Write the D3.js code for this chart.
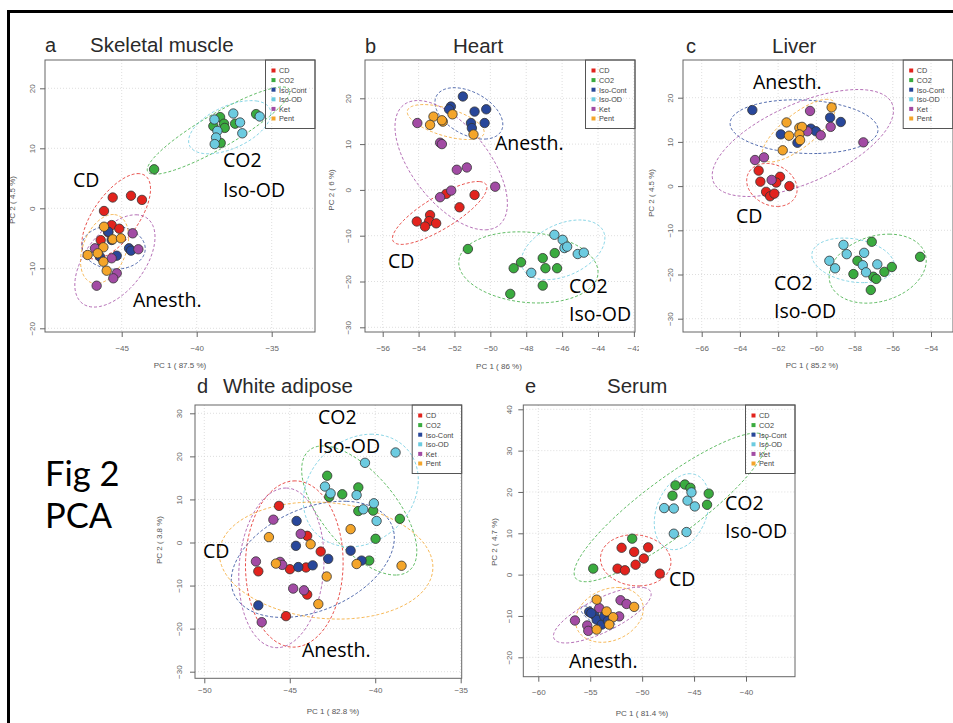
<!DOCTYPE html>
<html lang="en">
<head>
<meta charset="UTF-8" />
<title>Fig 2 PCA</title>
<script src="https://d3js.org/d3.v7.min.js"></script>
<style>
  body { margin: 0; background: #fff; }
  svg { display: block; }
</style>
</head>
<body>
<svg width="953" height="723"></svg>
<script>
const groups = ["CD", "CO2", "Iso-Cont", "Iso-OD", "Ket", "Pent"];
const groupColors = ["#e2231d", "#3aab3f", "#28479a", "#6ccbe0", "#a24ba4", "#f4a52a"];

// a  skeletal muscle
const muscleCD = [[-45.6,1.8],[-44.38,2.1],[-43.65,1.4],[-46.18,-0.45],[-45.67,-2.8],[-45.16,-3.4],[-46.4,-5.3],[-45.9,-4.0]];
const muscleCO2 = [[-42.84,6.5],[-38.89,13.7],[-38.44,15.2],[-38.18,14.1],[-38.13,13.4],[-38.4,10.9],[-37.44,14.1],[-36.04,15.7]];
const muscleIsoCont = [[-45.89,-3.9],[-45.67,-5.28],[-46.56,-6.83],[-46.45,-8.07],[-45.33,-7.9],[-44.51,-6.67],[-44.38,-7.06]];
const muscleIsoOD = [[-38.82,14.8],[-38.62,12.9],[-38.71,11.8],[-38.8,10.7],[-37.56,15.8],[-37.11,14.3],[-36.96,12.5],[-35.8,15.3]];
const muscleKet = [[-44.27,-4.17],[-43.89,-6.83],[-46.78,-6.67],[-45.67,-8.33],[-45.33,-10.83],[-45.56,-11.67],[-46.67,-12.9]];
const musclePent = [[-46.18,-3.07],[-45.6,-5.17],[-45.05,-5.0],[-46.22,-6.5],[-47.27,-7.78],[-46.6,-7.5],[-46.22,-8.9],[-46,-10.4]];

// b  heart
const heartCD = [[-52.46,-0.87],[-50.88,-1.1],[-51.72,-3.8],[-53.36,-5.5],[-54.1,-6.9],[-53.41,-6.8],[-53.02,-7.3],[-53.64,-8.0]];
const heartCO2 = [[-51.25,-12.9],[-48.7,-17.1],[-48.29,-15.8],[-48.89,-22.7],[-47.08,-14.9],[-46.93,-17.1],[-46.41,-13.8],[-46.28,-17.1],[-47.08,-20.9]];
const heartIsoCont = [[-51.53,20.4],[-52.2,18.2],[-50.88,17.1],[-50.23,17.6],[-51.08,14.6],[-51.03,13.5],[-50.32,14.6],[-52.3,17.6]];
const heartIsoOD = [[-46.43,-9.8],[-45.97,-10.9],[-45.87,-12.7],[-45.72,-12.4],[-45.13,-14.0],[-44.79,-13.7],[-47.72,-18.1]];
const heartKet = [[-54.07,14.6],[-52.8,10.3],[-52.7,10.0],[-51.87,4.4],[-51.31,4.9],[-52.18,-0.15],[-52.8,-1.6],[-49.73,0.7]];
const heartPent = [[-52.11,16.5],[-52.65,14.9],[-53.17,16.0],[-53.36,14.2],[-50.94,12.1],[-52.7,15.2]];

// c  liver
const liverCD = [[-63.02,3.5],[-62.93,1.0],[-61.9,2.1],[-61.41,0],[-62.63,-1.3],[-62.42,-2.3],[-62.2,-1.7],[-62.1,0.8]];
const liverCO2 = [[-57.1,-12.6],[-57.85,-16.9],[-58.06,-19.9],[-57.02,-20.5],[-56.87,-21.0],[-57.15,-23.5],[-56.44,-19.4],[-56.05,-18.3],[-54.57,-16.0]];
const liverIsoCont = [[-63.35,17.2],[-61.86,11.7],[-60.99,9.8],[-60.29,13.0],[-60.02,12.4],[-59.28,15.5],[-58.72,14.5]];
const liverIsoOD = [[-58.58,-13.3],[-58.41,-15.4],[-57.5,-15.1],[-59.32,-16.9],[-59.02,-18.6],[-57.57,-17.9],[-57.4,-19.5],[-56.81,-17.7]];
const liverKet = [[-60.33,17.0],[-60.47,12.4],[-59.77,11.5],[-59.25,13.4],[-57.54,9.9],[-63.21,5.9],[-62.74,6.5],[-62.34,1.4]];
const liverPent = [[-61.56,14.4],[-61.43,11.4],[-60.89,13.2],[-60.75,13.4],[-60.89,11.7],[-60.85,10.4],[-61.76,8.1],[-59.2,17.8]];

// d  white adipose
const adiposeCD = [[-45.63,8.5],[-43.98,1.55],[-43.19,-2.1],[-44.99,-6.2],[-44.05,-5.8],[-46.84,-6.7],[-43.98,-12.1],[-45.22,-17.1]];
const adiposeCO2 = [[-42.81,15.5],[-41.93,11.2],[-40.99,12.8],[-42.69,10.6],[-40.99,7.3],[-40.12,7.4],[-38.56,5.5],[-39.98,0.86],[-40.35,-4.2]];
const adiposeIsoCont = [[-44.6,5.0],[-44.64,-0.77],[-41.44,-1.9],[-42.75,-3.8],[-43.66,-5.3],[-44.5,-5.7],[-40.8,-4.2],[-46.84,-14.6]];
const adiposeIsoOD = [[-38.81,20.9],[-40.6,18.5],[-42.94,13.0],[-42.61,11.4],[-41.09,11.0],[-40.08,9.1],[-40.7,7.7],[-39.92,5.0]];
const adiposeKet = [[-45.96,5.3],[-44.36,2.0],[-46.98,-4.4],[-45.57,-4.5],[-45.44,-5.2],[-44.8,-10.7],[-44.17,-11.1],[-46.64,-18.5]];
const adiposePent = [[-46.22,1.25],[-43.78,-0.4],[-41.44,3.1],[-45.81,-4.9],[-42.84,-7.9],[-41.09,-5.0],[-38.46,-5.4],[-43.33,-14.3]];

// e  serum
const serumCD = [[-51.98,6.5],[-50.77,5.5],[-49.42,6.6],[-49.84,3.9],[-50.63,2.4],[-52.37,1.45],[-51.66,1.05],[-48.3,0.24]];
const serumCO2 = [[-46.79,21.6],[-45.89,21.8],[-45.35,21.0],[-47.08,19.1],[-43.59,19.6],[-43.75,16.9],[-50.96,8.7],[-54.71,1.45]];
const serumIsoCont = [[-55.1,-9.0],[-54.62,-9.7],[-54.38,-10.9],[-53.9,-12.1],[-53.65,-10.1],[-54.9,-9.3],[-53.3,-11.2]];
const serumIsoOD = [[-47.88,16.1],[-46.95,16.0],[-45.63,17.9],[-45.25,19.9],[-44.93,16.5],[-46.95,9.9],[-45.73,10.3]];
const serumKet = [[-52.08,-6.2],[-51.5,-7.1],[-52.21,-10.1],[-56.47,-11.1],[-55.29,-12.3],[-55.19,-13.6],[-54.13,-8.1]];
const serumPent = [[-54.38,-6.05],[-53.42,-8.9],[-50.77,-7.8],[-52.79,-10.3],[-53.17,-12.1],[-54.38,-13.3]];

// tick labels
const muscleXTicks = [-45, -40, -35], muscleYTicks = [-20, -10, 0, 10, 20];
const heartXTicks = [-56, -54, -52, -50, -48, -46, -44, -42], heartYTicks = [-30, -20, -10, 0, 10, 20];
const liverXTicks = [-66, -64, -62, -60, -58, -56, -54], liverYTicks = [-30, -20, -10, 0, 10, 20];
const adiposeXTicks = [-50, -45, -40, -35], adiposeYTicks = [-30, -20, -10, 0, 10, 20, 30];
const serumXTicks = [-60, -55, -50, -45, -40], serumYTicks = [-20, -10, 0, 10, 20, 30, 40];

const pc1Labels = ["PC 1 ( 87.5 %)", "PC 1 ( 86 %)", "PC 1 ( 85.2 %)", "PC 1 ( 82.8 %)", "PC 1 ( 81.4 %)"];
const pc2Labels = ["PC 2 ( 4.5 %)", "PC 2 ( 6 %)", "PC 2 ( 4.5 %)", "PC 2 ( 3.8 %)", "PC 2 ( 4.7 %)"];

const panels = [
  { letter: "a", title: "Skeletal muscle", lx: 45, tx: 90, ty: 52, box: [45, 60, 315, 332],
    xd: [-45, -35], xr: [121.7, 271.7], yd: [-20, 20], yr: [328.3, 88.3],
    xt: muscleXTicks, yt: muscleYTicks, xpad: 8, ypad: 5, xlx: 180, xly: 368, ylx: 15, yly: 200,
    data: [muscleCD, muscleCO2, muscleIsoCont, muscleIsoOD, muscleKet, musclePent],
    notes: [["CD", 73, 187], ["CO2", 223, 167], ["Iso-OD", 223, 197], ["Anesth.", 133, 307]] },
  { letter: "b", title: "Heart", lx: 365, tx: 453, ty: 53, box: [365, 60, 635, 332],
    xd: [-56, -44], xr: [382.7, 598], yd: [-30, 20], yr: [327.3, 98.3],
    xt: heartXTicks, yt: heartYTicks, xpad: 8, ypad: 9, xlx: 499, xly: 369, ylx: 334, yly: 190,
    clip: [318, 639],
    data: [heartCD, heartCO2, heartIsoCont, heartIsoOD, heartKet, heartPent],
    notes: [["Anesth.", 495, 150], ["CD", 388, 268], ["CO2", 569, 293], ["Iso-OD", 569, 321]] },
  { letter: "c", title: "Liver", lx: 686, tx: 772, ty: 53, box: [683, 60, 953, 332],
    xd: [-66, -54], xr: [701.7, 931], yd: [-30, 20], yr: [318.7, 97.7],
    xt: liverXTicks, yt: liverYTicks, xpad: 8, ypad: 5, xlx: 812, xly: 368, ylx: 654, yly: 193,
    data: [liverCD, liverCO2, liverIsoCont, liverIsoOD, liverKet, liverPent],
    notes: [["Anesth.", 753, 89], ["CD", 736, 223], ["CO2", 774, 290], ["Iso-OD", 774, 318]] },
  { letter: "d", title: "White adipose", lx: 197, tx: 223, ty: 393, box: [195, 405, 461.7, 678.3],
    xd: [-50, -35], xr: [204.3, 460.7], yd: [-30, 30], yr: [671.7, 413.3],
    xt: adiposeXTicks, yt: adiposeYTicks, xpad: 4, ypad: 8, xlx: 333, xly: 714, ylx: 162, yly: 540,
    data: [adiposeCD, adiposeCO2, adiposeIsoCont, adiposeIsoOD, adiposeKet, adiposePent],
    notes: [["CO2", 318, 424], ["Iso-OD", 318, 453], ["CD", 203, 558], ["Anesth.", 302, 657]] },
  { letter: "e", title: "Serum", lx: 525, tx: 607, ty: 393, box: [523.3, 405, 795, 676.7],
    xd: [-60, -40], xr: [538.3, 746], yd: [-20, 40], yr: [657.3, 409.3],
    xt: serumXTicks, yt: serumYTicks, xpad: 8, ypad: 6, xlx: 642, xly: 716, ylx: 497, yly: 542,
    data: [serumCD, serumCO2, serumIsoCont, serumIsoOD, serumKet, serumPent],
    notes: [["CO2", 725, 510], ["Iso-OD", 725, 538], ["CD", 669, 586], ["Anesth.", 569, 668]] }
];

const svg = d3.select("svg");
svg.append("rect").attr("width", 953).attr("height", 723).attr("fill", "#fff");

const chi95 = Math.sqrt(5.991);
function ellipse(pts) {
  const n = pts.length;
  const mx = d3.mean(pts, d => d[0]), my = d3.mean(pts, d => d[1]);
  const sxx = d3.sum(pts, d => (d[0] - mx) ** 2) / (n - 1);
  const syy = d3.sum(pts, d => (d[1] - my) ** 2) / (n - 1);
  const sxy = d3.sum(pts, d => (d[0] - mx) * (d[1] - my)) / (n - 1);
  const tr = sxx + syy, det = sxx * syy - sxy * sxy;
  const disc = Math.sqrt(Math.max(0, tr * tr / 4 - det));
  const a = Math.sqrt(tr / 2 + disc) * chi95;
  const b = Math.sqrt(Math.max(0, tr / 2 - disc)) * chi95;
  const th = 0.5 * Math.atan2(2 * sxy, sxx - syy);
  return d3.range(0, 121).map(i => {
    const t = i / 120 * 2 * Math.PI;
    return [mx + a * Math.cos(th) * Math.cos(t) - b * Math.sin(th) * Math.sin(t),
            my + a * Math.sin(th) * Math.cos(t) + b * Math.cos(th) * Math.sin(t)];
  });
}

panels.forEach((p, pi) => {
  const [x0, y0, x1, y1] = p.box;
  const x = d3.scaleLinear().domain(p.xd).range(p.xr);
  const y = d3.scaleLinear().domain(p.yd).range(p.yr);

  let g = svg.append("g");
  if (p.clip) {
    svg.append("clipPath").attr("id", "pc" + pi).append("rect")
      .attr("x", p.clip[0]).attr("y", 0).attr("width", p.clip[1] - p.clip[0]).attr("height", 723);
    g.attr("clip-path", "url(#pc" + pi + ")");
  }
  svg.append("clipPath").attr("id", "box" + pi).append("rect")
    .attr("x", x0).attr("y", y0).attr("width", x1 - x0).attr("height", y1 - y0);

  // title
  g.append("text").attr("x", p.lx).attr("y", p.ty).text(p.letter)
    .attr("font-family", "Liberation Sans, Arial, sans-serif").attr("font-size", 20).attr("fill", "#2a2a2a");
  g.append("text").attr("x", p.tx).attr("y", p.ty).text(p.title)
    .attr("font-family", "Liberation Sans, Arial, sans-serif").attr("font-size", 20.5).attr("fill", "#2a2a2a");

  // grid
  const grid = g.append("g").attr("stroke", "#d6d6d6").attr("stroke-dasharray", "1,2").attr("stroke-width", 0.8);
  grid.selectAll(".gx").data(p.xt.filter(v => x(v) > x0 && x(v) < x1)).join("line")
    .attr("x1", d => x(d)).attr("x2", d => x(d)).attr("y1", y0).attr("y2", y1);
  grid.selectAll(".gy").data(p.yt).join("line").attr("class", "gy")
    .attr("y1", d => y(d)).attr("y2", d => y(d)).attr("x1", x0).attr("x2", x1);

  // axes
  const ax = g.append("g").attr("transform", `translate(0,${y1})`)
    .call(d3.axisBottom(x).tickValues(p.xt).tickSize(5).tickPadding(p.xpad).tickFormat(d3.format("d")));
  const ay = g.append("g").attr("transform", `translate(${x0},0)`)
    .call(d3.axisLeft(y).tickValues(p.yt).tickSize(5).tickPadding(p.ypad).tickFormat(d3.format("d")));
  [ax, ay].forEach(a => {
    a.select(".domain").remove();
    a.selectAll("line").attr("stroke", "#666");
    a.selectAll("text").attr("fill", "#666").attr("font-size", 8)
      .attr("font-family", "Liberation Sans, Arial, sans-serif");
  });
  ay.selectAll("text").attr("transform", "rotate(-90)").attr("text-anchor", "middle")
    .attr("x", 0).attr("y", -(5 + p.ypad)).attr("dy", 0);

  g.append("text").attr("x", p.xlx).attr("y", p.xly).attr("text-anchor", "middle")
    .attr("font-family", "Liberation Sans, Arial, sans-serif").attr("font-size", 8).attr("fill", "#555")
    .text(pc1Labels[pi]);
  g.append("text").attr("transform", `translate(${p.ylx},${p.yly}) rotate(-90)`).attr("text-anchor", "middle")
    .attr("font-family", "Liberation Sans, Arial, sans-serif").attr("font-size", 8).attr("fill", "#555")
    .text(pc2Labels[pi]);

  // ellipses
  const line = d3.line().x(d => x(d[0])).y(d => y(d[1]));
  g.append("g").attr("clip-path", "url(#box" + pi + ")").selectAll("path").data(p.data).join("path")
    .attr("d", d => line(ellipse(d)) + "Z")
    .attr("fill", "none").attr("stroke", (d, i) => groupColors[i]).attr("stroke-opacity", 0.8)
    .attr("stroke-width", 1).attr("stroke-dasharray", "3,2");

  // points
  p.data.forEach((pts, gi) => {
    g.append("g").selectAll("circle").data(pts).join("circle")
      .attr("cx", d => x(d[0])).attr("cy", d => y(d[1])).attr("r", 4.7)
      .attr("fill", groupColors[gi]).attr("stroke", "#333").attr("stroke-width", 0.8);
  });

  // box
  g.append("rect").attr("x", x0).attr("y", y0).attr("width", x1 - x0).attr("height", y1 - y0)
    .attr("fill", "none").attr("stroke", "#666").attr("stroke-width", 1);

  // legend
  const lw = 49.5, lh = 68.5;
  const lx = (pi === 2 ? 952.7 : x1) - lw;
  const lg = g.append("g").attr("transform", `translate(${lx},${y0})`);
  lg.append("rect").attr("width", lw).attr("height", lh).attr("fill", "none").attr("stroke", "#555");
  const item = lg.selectAll(".it").data(groups).join("g")
    .attr("transform", (d, i) => `translate(0,${10.5 + i * 9.6})`);
  item.append("rect").attr("x", 6).attr("y", -2).attr("width", 4).attr("height", 4)
    .attr("fill", (d, i) => groupColors[i]);
  item.append("text").attr("x", 13.5).attr("y", 2.8).text(d => d)
    .attr("font-family", "Liberation Sans, Arial, sans-serif").attr("font-size", 7.3).attr("fill", "#444");

  // annotations
  g.selectAll(".note").data(p.notes).join("text")
    .attr("x", d => d[1]).attr("y", d => d[2]).text(d => d[0])
    .attr("font-family", "Open Sans, Noto Sans, sans-serif").attr("font-size", 19.5).attr("fill", "#000");
});

svg.append("text").attr("x", 45).attr("y", 486).text("Fig 2")
  .attr("font-family", "Lato, Open Sans, sans-serif").attr("font-size", 34.5).attr("fill", "#000");
svg.append("text").attr("x", 45).attr("y", 528).text("PCA")
  .attr("font-family", "Lato, Open Sans, sans-serif").attr("font-size", 34.5).attr("fill", "#000");

svg.append("rect").attr("x", 8.5).attr("y", 11.5).attr("width", 1000).attr("height", 800)
  .attr("fill", "none").attr("stroke", "#000").attr("stroke-width", 3);
</script>
</body>
</html>
